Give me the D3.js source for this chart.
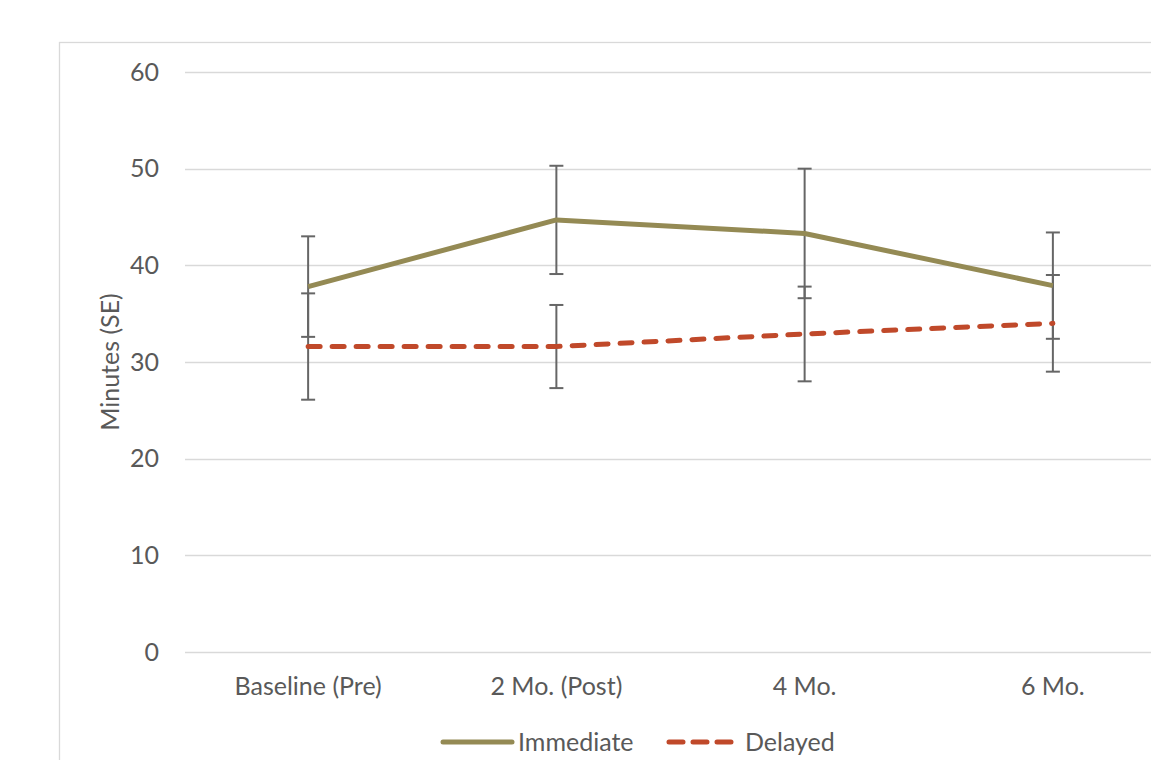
<!DOCTYPE html>
<html><head><meta charset="utf-8">
<script src="https://cdn.jsdelivr.net/npm/d3@7"></script>
<style>body{margin:0;background:#fff}svg{display:block}text{font-family:Lato,"Open Sans",sans-serif;fill:#595959}</style>
</head><body>
<svg id="c" width="1151" height="760"></svg>
<script>
const categories = ["Baseline (Pre)", "2 Mo. (Post)", "4 Mo.", "6 Mo."];
const immediate = [37.8, 44.7, 43.3, 37.9];
const immediateSE = [5.2, 5.6, 6.7, 5.5];
const delayed = [31.6, 31.6, 32.9, 34.0];
const delayedSE = [5.5, 4.3, 4.9, 5.0];
const yTicks = [0, 10, 20, 30, 40, 50, 60];
const seriesNames = ["Immediate", "Delayed"];

const FS = "25px";
const svg = d3.select("#c");
svg.append("rect").attr("x",59.5).attr("y",42.5).attr("width",1300).attr("height",900)
  .attr("fill","none").attr("stroke","#d9d9d9").attr("stroke-width",1.3);

const x = d3.scalePoint().domain(categories).range([184,1177]).padding(0.5);
const y = d3.scaleLinear().domain([0,60]).range([652,72]);

const g = svg.append("g");
g.selectAll("line.grid").data(yTicks).join("line").attr("class","grid")
  .attr("x1",185).attr("x2",1151).attr("y1",d=>Math.round(y(d))+0.5).attr("y2",d=>Math.round(y(d))+0.5)
  .attr("stroke","#d9d9d9").attr("stroke-width",1.3);
g.selectAll("text.yt").data(yTicks).join("text").attr("class","yt")
  .attr("x",159).attr("y",d=>y(d)).attr("dy","0.35em").attr("text-anchor","end")
  .style("font-size",FS).text(d=>d);
g.selectAll("text.xt").data(categories).join("text").attr("class","xt")
  .attr("x",d=>x(d)).attr("y",695).attr("text-anchor","middle")
  .style("font-size",FS).text(d=>d);
svg.append("text").attr("transform","translate(119,362) rotate(-90)").attr("text-anchor","middle")
  .style("font-size",FS).text("Minutes (SE)");

const colors = ["#948A54","#C0492A"];
const line = d3.line().x((d,i)=>x(categories[i])).y(d=>y(d));

function errBars(vals, se){
  vals.forEach((v,i)=>{
    const cx = x(categories[i]);
    g.append("line").attr("x1",cx).attr("x2",cx).attr("y1",y(v+se[i])).attr("y2",y(v-se[i]))
      .attr("stroke","#666").attr("stroke-width",2);
    [v+se[i], v-se[i]].forEach(e=>{
      g.append("line").attr("x1",cx-7).attr("x2",cx+7).attr("y1",y(e)).attr("y2",y(e))
        .attr("stroke","#666").attr("stroke-width",2);
    });
  });
}
errBars(immediate, immediateSE);
errBars(delayed, delayedSE);

g.append("path").datum(immediate).attr("d",line).attr("fill","none")
  .attr("stroke",colors[0]).attr("stroke-width",5).attr("stroke-linejoin","round");
g.append("path").datum(delayed).attr("d",line).attr("fill","none")
  .attr("stroke",colors[1]).attr("stroke-width",5).attr("stroke-dasharray","12,12").attr("stroke-linecap","round");

// legend
const lg = svg.append("g");
lg.append("line").attr("x1",443).attr("x2",512).attr("y1",742).attr("y2",742)
  .attr("stroke",colors[0]).attr("stroke-width",5).attr("stroke-linecap","round");
lg.append("text").attr("x",518).attr("y",742).attr("dy","0.35em").style("font-size",FS).text(seriesNames[0]);
lg.append("line").attr("x1",669).attr("x2",731).attr("y1",742).attr("y2",742)
  .attr("stroke",colors[1]).attr("stroke-width",5).attr("stroke-linecap","round").attr("stroke-dasharray","14,10");
lg.append("text").attr("x",745).attr("y",742).attr("dy","0.35em").style("font-size",FS).text(seriesNames[1]);
</script>
</body></html>
